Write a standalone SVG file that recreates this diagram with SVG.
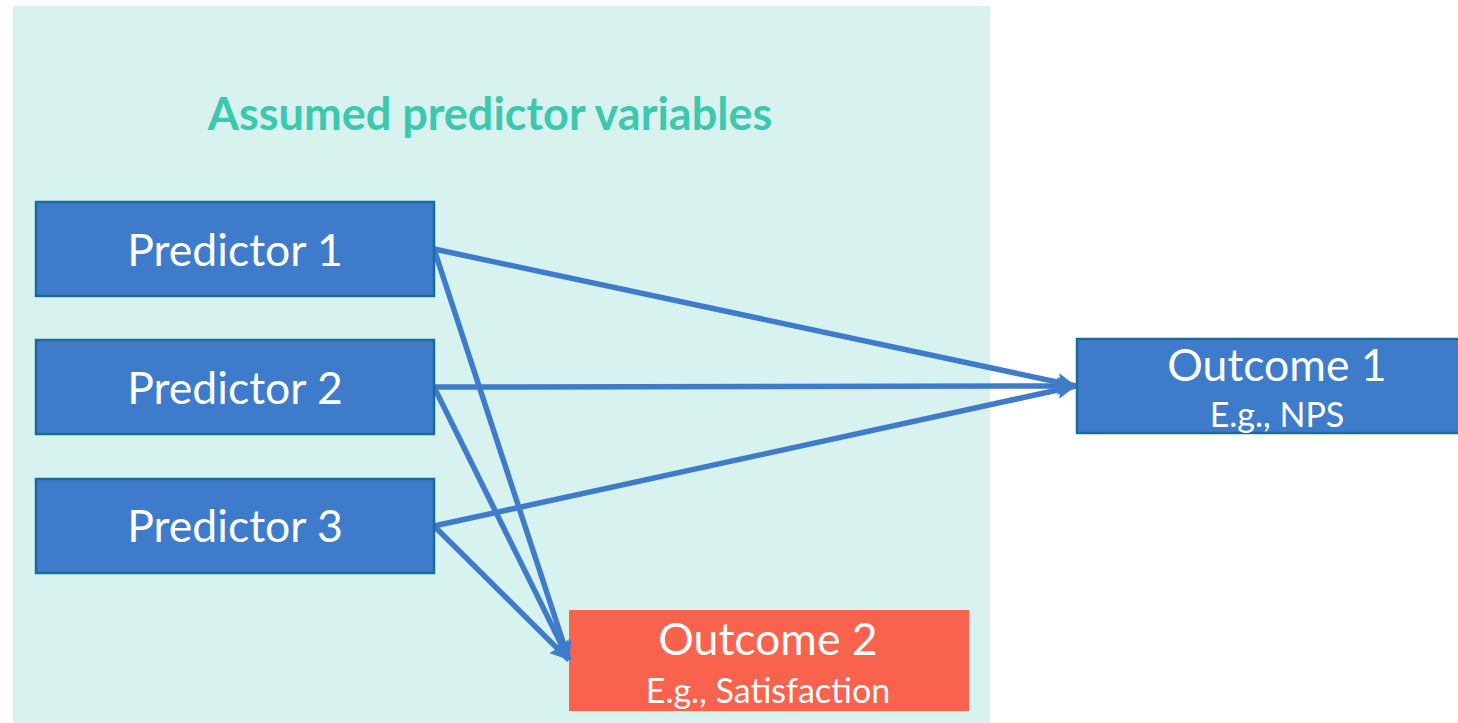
<svg xmlns="http://www.w3.org/2000/svg" width="1458" height="723" viewBox="0 0 1458 723">
<style>
.node{fill:#3E7CCB;stroke:#176C9C;stroke-width:2.5}
.out2{fill:#F9624C}
.lbl{font-family:Lato,"Open Sans","Liberation Sans",sans-serif;fill:#FFFFFF;text-anchor:middle}
.big{font-size:44.5px}
.small{font-size:34px}
.edge{stroke:#3E7CCB;stroke-width:5.5;fill:none;marker-end:url(#ah)}
.title{font-family:Lato,"Open Sans","Liberation Sans",sans-serif;font-weight:bold;font-size:45px;fill:#3CC8AE;text-anchor:middle}
</style>
<defs>
<marker id="ah" markerUnits="userSpaceOnUse" markerWidth="20" markerHeight="20" viewBox="0 0 20 20" refX="19" refY="10" orient="auto">
<path d="M0,1 L19,10 L0,19 L3,10 Z" fill="#3E7CCB"/>
</marker>
</defs>
<rect x="13" y="6" width="977" height="717" fill="#D8F3EF"/>
<g id="title"><text class="title" x="490" y="130">Assumed predictor variables</text></g>
<g id="outcome2"><rect class="out2" x="569" y="610" width="400" height="101"/>
<text class="lbl big" x="768" y="655">Outcome 2</text>
<text class="lbl small" x="768" y="703">E.g., Satisfaction</text></g>
<g id="connectors">
<line class="edge" x1="434" y1="249" x2="1076" y2="386"/>
<line class="edge" x1="434" y1="387" x2="1076" y2="386"/>
<line class="edge" x1="434" y1="526" x2="1076" y2="386"/>
<line class="edge" x1="434" y1="249" x2="569" y2="660"/>
<line class="edge" x1="434" y1="387" x2="569" y2="660"/>
<line class="edge" x1="434" y1="526" x2="569" y2="660"/>
</g>
<g id="predictor1"><rect class="node" x="36" y="202" width="398" height="94"/>
<text class="lbl big" x="235" y="266">Predictor 1</text></g>
<g id="predictor2"><rect class="node" x="36" y="340" width="398" height="94"/>
<text class="lbl big" x="235" y="404">Predictor 2</text></g>
<g id="predictor3"><rect class="node" x="36" y="479" width="398" height="94"/>
<text class="lbl big" x="235" y="542">Predictor 3</text></g>
<g id="outcome1"><rect class="node" x="1077" y="339" width="400" height="94"/>
<text class="lbl big" x="1277" y="381">Outcome 1</text>
<text class="lbl small" x="1277" y="427">E.g., NPS</text></g>
</svg>
